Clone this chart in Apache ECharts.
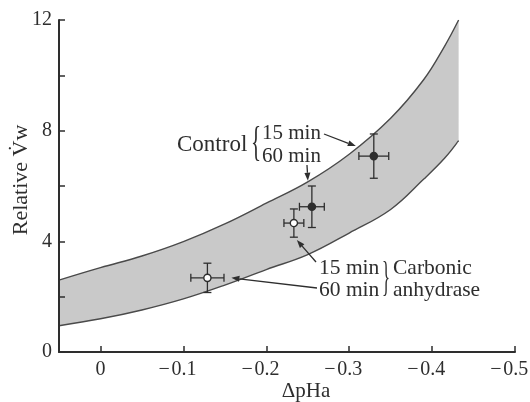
<!DOCTYPE html>
<html><head><meta charset="utf-8">
<script src="https://cdn.jsdelivr.net/npm/echarts@6/dist/echarts.min.js"></script>
<style>html,body{margin:0;padding:0;background:#fff}#c{width:530px;height:402px}</style>
</head><body><div id="c"></div>
<script>
// Band (range of predicted relative water flux)
const bandX     = [0.05, 0, -0.05, -0.1, -0.15, -0.2, -0.25, -0.3, -0.35, -0.39, -0.415, -0.432];
const bandUpper = [2.6, 3.05, 3.47, 3.99, 4.63, 5.38, 6.15, 7.15, 8.45, 9.85, 11.05, 12.0];
const bandLower = [0.95, 1.2, 1.52, 1.92, 2.42, 2.98, 3.52, 4.3, 5.15, 6.25, 7.0, 7.64];

// Control (15 min, 60 min) - filled circles
const ctrlLabels = ['15 min', '60 min'];
const ctrlX    = [-0.3297, -0.255];
const ctrlY    = [7.08, 5.25];
const ctrlXErr = [0.018, 0.015];
const ctrlYErr = [0.8, 0.75];

// Carbonic anhydrase (15 min, 60 min) - open circles
const caLabels = ['15 min', '60 min'];
const caX    = [-0.2333, -0.129];
const caY    = [4.66, 2.68];
const caXErr = [0.012, 0.02];
const caYErr = [0.51, 0.53];

// Axis ticks
const xTicks = [0, -0.1, -0.2, -0.3, -0.4, -0.5];
const yTicks = [0, 2, 4, 6, 8, 10, 12];
const yLabels = [0, 4, 8, 12];

const FONT = '"Liberation Serif", "DejaVu Serif", serif';
const INK = '#2e2e2e';

const chart = echarts.init(document.getElementById('c'));

function errSeries(xs, ys, xe, ye, filled) {
  return {
    type: 'custom',
    clip: false,
    encode: { x: 0, y: 1 },
    data: xs.map((x, i) => [x, ys[i], xe[i], ye[i]]),
    z: 10,
    renderItem(params, api) {
      const x = api.value(0), y = api.value(1), dx = api.value(2), dy = api.value(3);
      const c = api.coord([x, y]);
      const l = api.coord([x - dx, y]);
      const r = api.coord([x + dx, y]);
      const t = api.coord([x, y + dy]);
      const b = api.coord([x, y - dy]);
      const cap = 4;
      const st = { stroke: INK, lineWidth: 1.3 };
      const line = (x1, y1, x2, y2) => ({ type: 'line', shape: { x1, y1, x2, y2 }, style: st });
      return {
        type: 'group',
        children: [
          line(l[0], l[1], r[0], r[1]),
          line(l[0], l[1] - cap, l[0], l[1] + cap),
          line(r[0], r[1] - cap, r[0], r[1] + cap),
          line(t[0], t[1], b[0], b[1]),
          line(t[0] - cap, t[1], t[0] + cap, t[1]),
          line(b[0] - cap, b[1], b[0] + cap, b[1]),
          { type: 'circle', shape: { cx: c[0], cy: c[1], r: 3.6 },
            style: { fill: filled ? INK : '#fff', stroke: INK, lineWidth: 1.4 } }
        ]
      };
    }
  };
}

const bandEnd = bandX[bandX.length - 1];
const bandLowerEnd = bandLower[bandLower.length - 1];

const option = {
  animation: false,
  backgroundColor: '#fff',
  grid: { left: 59, right: 15, top: 20, bottom: 50, containLabel: false, outerBoundsMode: 'none' },
  xAxis: {
    type: 'value', inverse: true, min: -0.5, max: 0.05, z: 8,
    axisLine: { onZero: false, lineStyle: { color: INK, width: 2 } },
    axisTick: { inside: true, length: 6, customValues: xTicks, lineStyle: { color: INK, width: 1.5 } },
    axisLabel: {
      customValues: xTicks, margin: 8, color: INK, fontFamily: FONT, fontSize: 20, hideOverlap: false,
      formatter: v => (Math.abs(v) < 1e-9 ? '0' : '\u2212\u200A' + Math.abs(v).toFixed(1) + '\u2002\u200A')
    },
    splitLine: { show: false }
  },
  yAxis: {
    type: 'value', min: 0, max: 12, z: 8,
    axisLine: { onZero: false, lineStyle: { color: INK, width: 2 } },
    axisTick: { inside: true, length: 6, customValues: yTicks, lineStyle: { color: INK, width: 1.5 } },
    axisLabel: { customValues: yLabels, margin: 7, color: INK, fontFamily: FONT, fontSize: 20 },
    splitLine: { show: false }
  },
  series: [
    {
      // upper boundary: grey fill beneath it
      type: 'line', smooth: 0.4, symbol: 'none', z: 2,
      data: bandX.map((x, i) => [x, bandUpper[i]]),
      lineStyle: { color: '#4a4a4a', width: 1.4 },
      areaStyle: { color: '#c9c9c9', opacity: 1 }
    },
    {
      // lower boundary: white fill beneath it leaves only the band
      type: 'line', smooth: 0.4, symbol: 'none', z: 3,
      data: bandX.map((x, i) => [x, bandLower[i]]),
      lineStyle: { color: '#4a4a4a', width: 1.4 },
      areaStyle: { color: '#ffffff', opacity: 1 }
    },
    {
      // clean white mask right of the band's end, below the lower curve
      type: 'custom', z: 4, silent: true, clip: false,
      encode: { x: 0, y: 1 },
      data: [[bandEnd, bandLowerEnd]],
      renderItem(params, api) {
        const p = api.coord([api.value(0), api.value(1)]);
        const base = api.coord([api.value(0), 0]);
        return { type: 'rect', shape: { x: p[0] - 0.8, y: p[1] + 1.5, width: 12, height: base[1] - p[1] - 2.5 },
          style: { fill: '#ffffff' } };
      }
    },
    errSeries(ctrlX, ctrlY, ctrlXErr, ctrlYErr, true),
    errSeries(caX, caY, caXErr, caYErr, false)
  ]
};
chart.setOption(option);

function arrow(x1, y1, x2, y2) {
  const ang = Math.atan2(y2 - y1, x2 - x1);
  const L = 8, W = 3;
  const bx = x2 - L * Math.cos(ang), by = y2 - L * Math.sin(ang);
  const px = -Math.sin(ang) * W, py = Math.cos(ang) * W;
  return [
    { type: 'line', shape: { x1, y1, x2: bx, y2: by }, style: { stroke: INK, lineWidth: 1.3 }, z: 20 },
    { type: 'polygon', shape: { points: [[x2, y2], [bx + px, by + py], [bx - px, by - py]] }, style: { fill: INK }, z: 20 }
  ];
}
function txt(text, x, y, size, align, extra) {
  return Object.assign({ type: 'text', x, y, z: 20,
    style: { text, fill: INK, font: size + 'px ' + FONT, textAlign: align || 'left', textVerticalAlign: 'middle' } }, extra || {});
}

const pc = (x, y) => chart.convertToPixel({ gridIndex: 0 }, [x, y]);
const c15 = pc(ctrlX[0], ctrlY[0]);
const c60 = pc(ctrlX[1], ctrlY[1]);
const a15 = pc(caX[0], caY[0]);
const a60 = pc(caX[1], caY[1]);

const g = [];
// Axis names
g.push(txt('Relative V\u0307w', 21, 180, 22, 'center', { rotation: Math.PI / 2 }));
g.push(txt('\u0394pHa', 306, 391, 21, 'center'));
// Control annotation
g.push(txt('Control', 177, 145, 23, 'left'));
g.push(txt('{', 251, 144, 42, 'left', { scaleX: 0.5 }));
g.push(txt(ctrlLabels[0], 262, 133, 21, 'left'));
g.push(txt(ctrlLabels[1], 262, 156, 21, 'left'));
g.push(...arrow(324, 134, c15[0] - 18, c15[1] - 10));
g.push(...arrow(307, 165, c60[0] - 4, c60[1] - 26));
// Carbonic anhydrase annotation
g.push(txt(caLabels[0], 319, 268, 21.5, 'left'));
g.push(txt(caLabels[1], 319, 290, 21.5, 'left'));
g.push(txt('}', 382, 279, 42, 'left', { scaleX: 0.4 }));
g.push(txt('Carbonic', 393, 268, 21.5, 'left'));
g.push(txt('anhydrase', 393, 290, 21.5, 'left'));
g.push(...arrow(316, 262, a15[0] + 3, a15[1] + 17));
g.push(...arrow(317, 288, a60[0] + 24, a60[1]));

chart.setOption({ graphic: g });
</script>
</body></html>
